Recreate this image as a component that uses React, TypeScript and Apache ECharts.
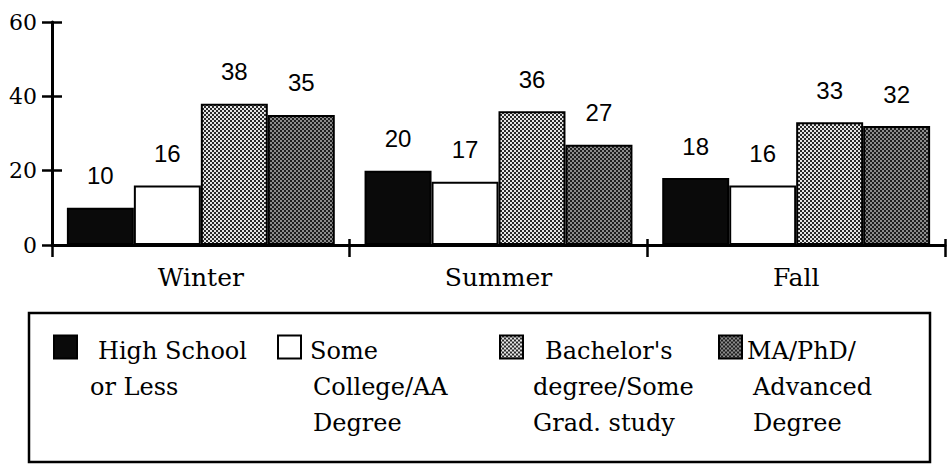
import React, { useEffect, useRef } from "react";
import * as echarts from "echarts";

const categories = ["Winter", "Summer", "Fall"];
const seriesNames = [
  "High School or Less",
  "Some College/AA Degree",
  "Bachelor's degree/Some Grad. study",
  "MA/PhD/Advanced Degree",
];
const highSchool = [10, 20, 18];
const someCollege = [16, 17, 16];
const bachelors = [38, 36, 33];
const advanced = [35, 27, 32];
const yTicks = [0, 20, 40, 60];

const SERIF = "DejaVu Serif";
const SANS = "Liberation Sans";

function makePattern(bg: string, fg: string) {
  const c = document.createElement("canvas");
  c.width = 4;
  c.height = 4;
  const ctx = c.getContext("2d")!;
  ctx.fillStyle = bg;
  ctx.fillRect(0, 0, 4, 4);
  ctx.fillStyle = fg;
  ctx.fillRect(0, 0, 2, 2);
  ctx.fillRect(2, 2, 2, 2);
  return { image: c, repeat: "repeat" };
}

export default function App() {
  const ref = useRef<HTMLDivElement>(null);
  useEffect(() => {
    if (!ref.current) return;
    const chart = echarts.init(ref.current, undefined, { renderer: "svg" });
    const LH = 36;
    const FS = 24;
    const tok = (padLeft: number) => ({
      fontFamily: SERIF,
      fontSize: FS,
      lineHeight: LH,
      color: "#000",
      padding: [0, 0, 0, padLeft],
    });
    const legendTexts: Record<string, string> = {
      [seriesNames[0]]: "{a|High School}\n{b|or Less}",
      [seriesNames[1]]: "{a|Some}\n{b|College/AA}\n{b|Degree}",
      [seriesNames[2]]: "{a|Bachelor's}\n{b|degree/Some}\n{b|Grad. study}",
      [seriesNames[3]]: "{a|MA/PhD/}\n{b|Advanced}\n{b|Degree}",
    };
    const legendRich = [
      { a: tok(16), b: tok(8) },
      { a: tok(4), b: tok(7) },
      { a: tok(17), b: tok(5) },
      { a: tok(0), b: tok(6) },
    ];
    const lines = [2, 3, 3, 3];
    const iconX = [53, 277, 499, 718];
    const iconSize = 23;
    const iconCenterY = 347;
    const textShift = 4;
    const legends = seriesNames.map((name, i) => {
      const pad = (lines[i] - 1) * LH + 2 * textShift;
      const H = lines[i] * LH + pad;
      return {
        data: [name],
        left: iconX[i],
        top: iconCenterY - H / 2,
        padding: 0,
        icon: "rect",
        itemWidth: iconSize,
        itemHeight: iconSize,
        selectedMode: false,
        formatter: (n: string) => legendTexts[n],
        textStyle: {
          fontFamily: SERIF,
          fontSize: FS,
          lineHeight: LH,
          color: "#000",
          padding: [pad, 0, 0, 0],
          rich: legendRich[i],
        },
      };
    });
    const label = {
      show: true,
      position: "top",
      distance: 20,
      fontFamily: SANS,
      fontSize: 24,
      color: "#000",
    };
    const values = [highSchool, someCollege, bachelors, advanced];
    const colors: any[] = [
      "#0a0a0a",
      "#ffffff",
      makePattern("#2a2a2a", "#e6e6e6"),
      makePattern("#1e1e1e", "#8c8c8c"),
    ];
    chart.setOption({
      animation: false,
      textStyle: { fontFamily: SERIF, color: "#000" },
      grid: { left: 52, right: 2, top: 22, bottom: 220, containLabel: false },
      legend: legends,
      xAxis: [
        {
          type: "category",
          data: categories,
          position: "bottom",
          axisLine: { lineStyle: { color: "#000", width: 3 } },
          axisTick: { show: true, length: 12, lineStyle: { color: "#000", width: 2.5 } },
          axisLabel: { fontFamily: SERIF, fontSize: 25, color: "#000", margin: 20 },
        },
        {
          type: "category",
          data: categories,
          position: "bottom",
          axisLine: { show: false },
          axisTick: { show: true, inside: true, length: 6, lineStyle: { color: "#000", width: 2.5 } },
          axisLabel: { show: false },
        },
      ],
      yAxis: [
        {
          type: "value",
          min: yTicks[0],
          max: yTicks[yTicks.length - 1],
          interval: yTicks[1] - yTicks[0],
          position: "left",
          axisLine: { show: true, lineStyle: { color: "#000", width: 3 } },
          axisTick: { show: true, length: 10, lineStyle: { color: "#000", width: 2.5 } },
          axisLabel: { fontFamily: SERIF, fontSize: 22, color: "#000", margin: 15 },
          splitLine: { show: false },
        },
        {
          type: "value",
          min: yTicks[0],
          max: yTicks[yTicks.length - 1],
          interval: yTicks[1] - yTicks[0],
          position: "left",
          axisLine: { show: false },
          axisTick: { show: true, inside: true, length: 10, lineStyle: { color: "#000", width: 2.5 } },
          axisLabel: { show: false },
          splitLine: { show: false },
        },
      ],
      graphic: [
        {
          type: "rect",
          shape: { x: 29, y: 313, width: 901, height: 149 },
          style: { fill: "none", stroke: "#000", lineWidth: 2.5 },
        },
      ],
      series: seriesNames.map((name, i) => ({
        name,
        type: "bar",
        xAxisIndex: 0,
        yAxisIndex: 0,
        data: values[i],
        barGap: "0%",
        barCategoryGap: "10%",
        itemStyle: { color: colors[i], borderColor: "#000", borderWidth: 2 },
        label,
      })),
    });
    return () => chart.dispose();
  }, []);
  return (
    <div
      ref={ref}
      style={{ position: "fixed", left: 0, top: 0, width: 947, height: 465, background: "#fff" }}
    />
  );
}
